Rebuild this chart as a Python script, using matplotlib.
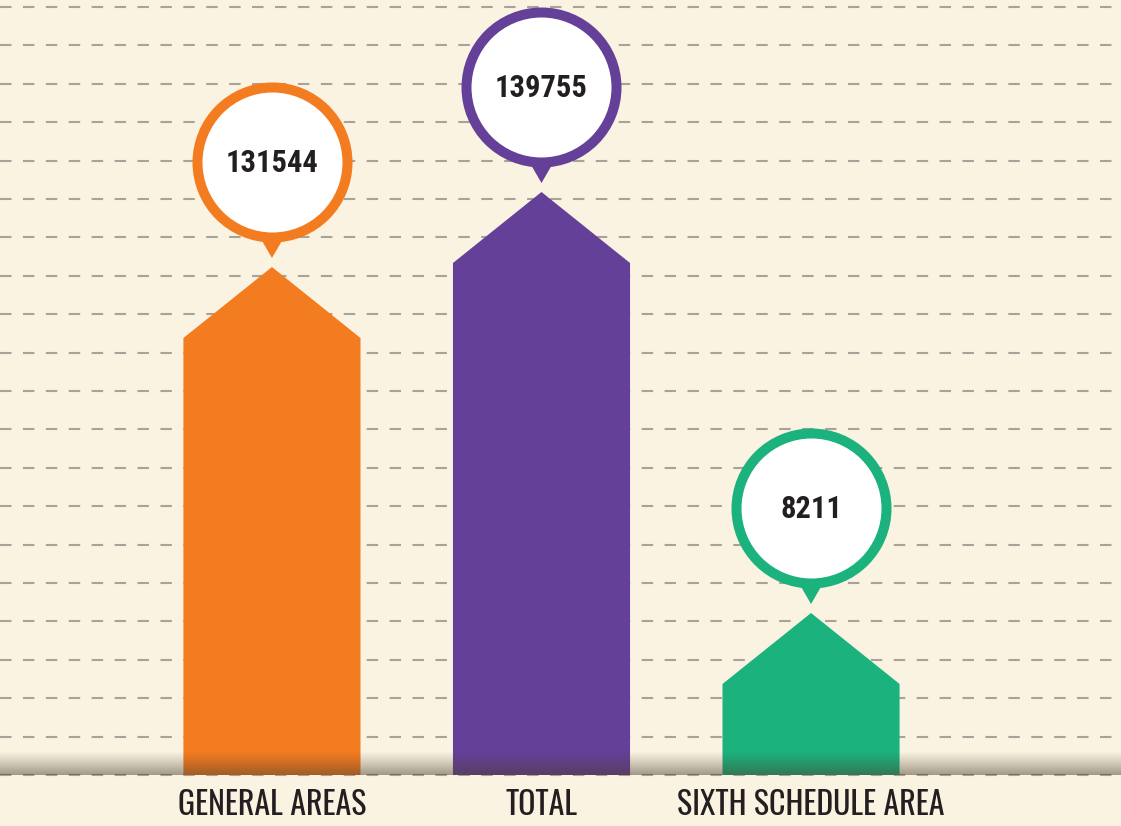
import matplotlib
matplotlib.use("Agg")
import matplotlib.pyplot as plt
from matplotlib.patches import Polygon
import numpy as np

# data
categories = ["GENERAL AREAS", "TOTAL", "SIXTH SCHEDULE AREA"]
values = [131544, 139755, 8211]
# drawn heights of the arrows in the infographic (not proportional to values)
drawn_heights = [508, 583, 162]
colors = ["#F47C20", "#654098", "#1BB27D"]

bg = "#FAF3E1"
label_font = ["Oswald", "Roboto Condensed", "DejaVu Sans"]
number_font = ["Roboto Condensed", "DejaVu Sans"]

fig = plt.figure(figsize=(11.21, 8.26), dpi=100, facecolor=bg)
ax = fig.add_axes([0, 0, 1, 1])
ax.set_facecolor(bg)
ax.axis("off")

# dashed guide lines
for k in range(21):
    ax.axhline(k * 38.4, color="#A8A39A", lw=1.5, dashes=(5.5, 5.5),
               dash_capstyle="butt", zorder=1)

w = 0.657
for i, (h, c) in enumerate(zip(drawn_heights, colors)):
    shoulder = h - 71
    poly = Polygon([(i - w / 2, 0), (i - w / 2, shoulder), (i, h),
                    (i + w / 2, shoulder), (i + w / 2, 0)],
                   closed=True, facecolor=c, edgecolor="none", zorder=3)
    ax.add_patch(poly)
    # pin pointer
    tw = 11 / 269.5
    ax.add_patch(Polygon([(i - tw, h + 28), (i + tw, h + 28), (i, h + 9)],
                         closed=True, facecolor=c, edgecolor="none", zorder=4))
    ax.scatter([i], [h + 105], s=108 ** 2, facecolor="white", edgecolor=c,
               linewidth=7.2, zorder=5)
    ax.text(i, h + 104, str(values[i]), ha="center", va="center",
            fontsize=22, fontweight="bold", color="#231F20",
            family=number_font, zorder=6)
    ax.text(i, -30, categories[i], ha="center", va="center", fontsize=23,
            color="#231F20", family=label_font)

# shadow band along the base (darkest at the baseline)
grad = np.linspace(0, 1, 60) ** 1.1
shade = np.zeros((60, 10, 4))
shade[..., 0] = 0.30
shade[..., 1] = 0.24
shade[..., 2] = 0.18
shade[..., 3] = (grad * 0.5)[:, None]
ax.imshow(shade, extent=(-1.009, 3.150, 0, 24), aspect="auto", zorder=7,
          interpolation="bilinear")
ax.set_xlim(-1.009, 3.150)
ax.set_ylim(-51, 775)

fig.savefig("out.png", dpi=100, facecolor=bg)
